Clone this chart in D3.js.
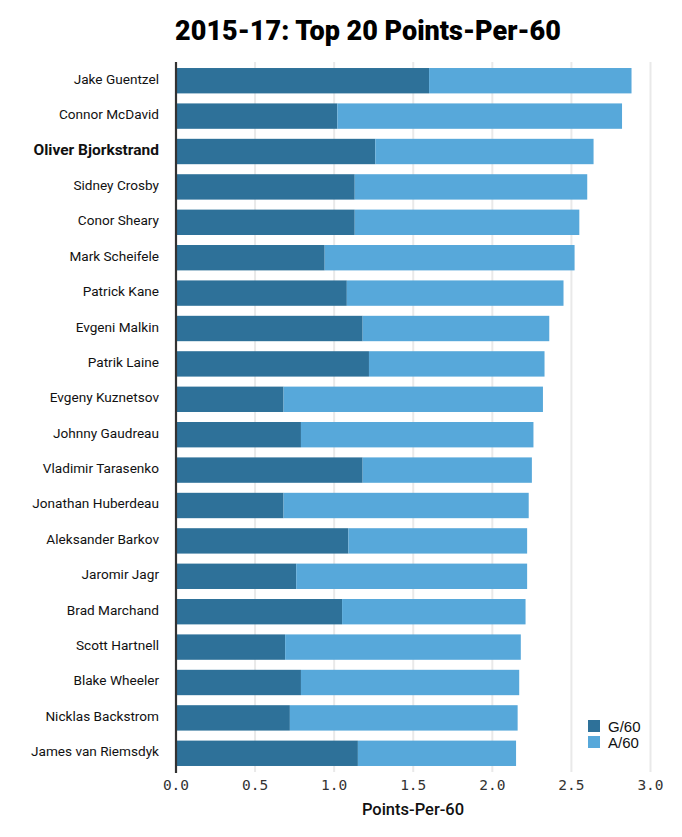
<!DOCTYPE html>
<html>
<head>
<meta charset="utf-8">
<script src="https://cdn.jsdelivr.net/npm/d3@7"></script>
<style>
  html, body { margin: 0; padding: 0; background: #fff; }
  svg { display: block; }
</style>
</head>
<body>
<script>
const players = ["Jake Guentzel","Connor McDavid","Oliver Bjorkstrand","Sidney Crosby","Conor Sheary","Mark Scheifele","Patrick Kane","Evgeni Malkin","Patrik Laine","Evgeny Kuznetsov","Johnny Gaudreau","Vladimir Tarasenko","Jonathan Huberdeau","Aleksander Barkov","Jaromir Jagr","Brad Marchand","Scott Hartnell","Blake Wheeler","Nicklas Backstrom","James van Riemsdyk"];
const goals60 = [1.60,1.02,1.26,1.13,1.13,0.94,1.08,1.18,1.22,0.68,0.79,1.18,0.68,1.09,0.76,1.05,0.69,0.79,0.72,1.15];
const points60 = [2.88,2.82,2.64,2.60,2.55,2.52,2.45,2.36,2.33,2.32,2.26,2.25,2.23,2.22,2.22,2.21,2.18,2.17,2.16,2.15];
const assists60 = points60.map((p,i) => +(p - goals60[i]).toFixed(2));
const highlight = "Oliver Bjorkstrand";
const xTicks = [0,0.5,1.0,1.5,2.0,2.5,3.0];
const seriesNames = ["G/60","A/60"];
const colors = ["#2e7199","#57a8da"];

const W = 682, H = 837;
const svg = d3.select("body").append("svg").attr("width", W).attr("height", H);

const x = d3.scaleLinear().domain([0,3]).range([176, 650.5]);
const y = d3.scaleBand().domain(players).range([62, 772]).paddingInner(0.283).paddingOuter(0.17);

// gridlines
svg.append("g").selectAll("line").data(xTicks.slice(1)).join("line")
  .attr("x1", d => x(d)).attr("x2", d => x(d))
  .attr("y1", 62).attr("y2", 772)
  .attr("stroke", "#e9e9e9").attr("stroke-width", 2);

// stacked bars
const rows = players.map((p,i) => ({name:p, g:goals60[i], a:assists60[i]}));
const stack = d3.stack().keys(["g","a"])(rows);
svg.append("g").selectAll("g").data(stack).join("g")
  .attr("fill", (d,i) => colors[i])
  .selectAll("rect").data(d => d).join("rect")
  .attr("x", d => x(d[0]))
  .attr("width", d => x(d[1]) - x(d[0]))
  .attr("y", d => y(d.data.name))
  .attr("height", y.bandwidth());

// y axis line
svg.append("line").attr("x1", 176).attr("x2", 176).attr("y1", 62).attr("y2", 773)
  .attr("stroke", "#333").attr("stroke-width", 2.2);

// y labels
svg.append("g").selectAll("text").data(players).join("text")
  .attr("x", 159).attr("y", d => y(d) + y.bandwidth()/2 - 2)
  .attr("text-anchor", "end").attr("dominant-baseline", "central")
  .style("font-family", "Roboto, 'Open Sans', sans-serif")
  .style("font-size", d => d === highlight ? "15.5px" : "13.6px")
  .style("font-weight", d => d === highlight ? "700" : "400")
  .attr("fill", "#111")
  .text(d => d);

// x tick labels
svg.append("g").selectAll("text").data(xTicks).join("text")
  .attr("x", d => x(d)).attr("y", 790)
  .attr("text-anchor", "middle")
  .style("font-family", "'DejaVu Sans Mono', 'Liberation Mono', monospace")
  .style("font-size", "14.5px")
  .attr("fill", "#333")
  .text(d => d3.format(".1f")(d));

// x axis title
svg.append("text").attr("x", 413).attr("y", 815).attr("text-anchor", "middle")
  .style("font-family", "Roboto, sans-serif").style("font-size", "16.5px").style("font-weight", "500")
  .attr("fill", "#111").text("Points-Per-60");

// title
svg.append("text").attr("x", 368).attr("y", 40).attr("text-anchor", "middle")
  .style("font-family", "Roboto, 'DejaVu Sans', sans-serif").style("font-size", "27px").style("font-weight", "900")
  .attr("fill", "#000").text("2015-17: Top 20 Points-Per-60");

// legend
const lg = svg.append("g").attr("transform", "translate(588,720)");
seriesNames.forEach((s,i) => {
  lg.append("rect").attr("x", 0).attr("y", i*16).attr("width", 12).attr("height", 12).attr("fill", colors[i]);
  lg.append("text").attr("x", 20).attr("y", i*16 + 6).attr("dominant-baseline", "central")
    .style("font-family", "'Liberation Sans', Arial, sans-serif").style("font-size", "15px")
    .attr("fill", "#111").text(s);
});
</script>
</body>
</html>
